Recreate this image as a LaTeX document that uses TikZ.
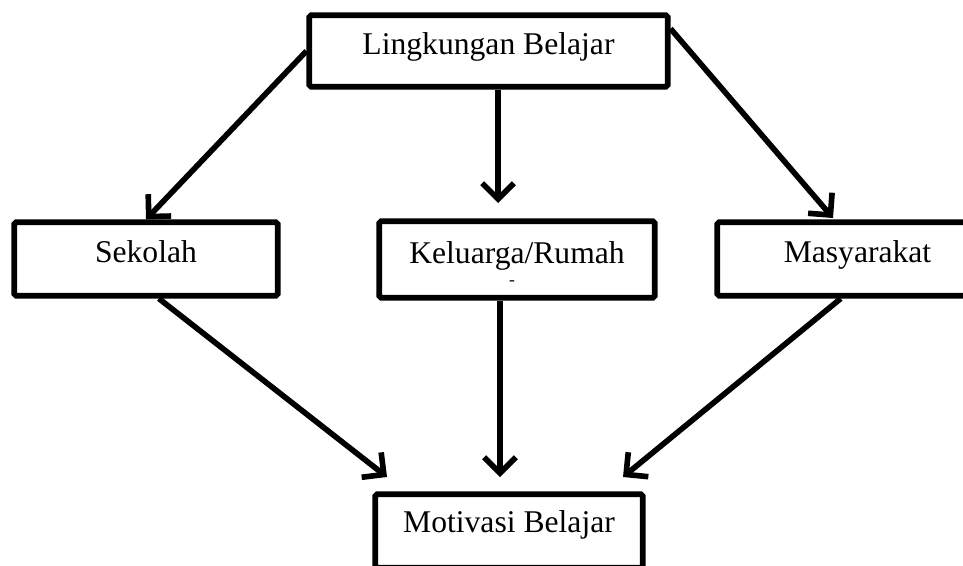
\documentclass[tikz,border=0pt]{standalone}
\usepackage{fontspec}
\setmainfont{Liberation Serif}
\usetikzlibrary{arrows.meta,positioning}
\tikzset{box/.style ={
        rectangle,
        draw=black,
        line width=3.2pt,
        rounded corners=1pt,
        inner sep=0pt,
        text height=13pt,
        text depth=9pt,
        font=\fontsize{18}{21}\selectfont
    },
    a/.style ={
        draw=black,
        line width=3.2pt,
        -{Straight Barb[length=9pt,width=18pt]}
    }}
\begin{document}
\begin{tikzpicture}
    [
    x=0.02cm,
    y=-0.02cm
    ]
    \useasboundingbox (0,0) rectangle (963,565);
    \clip (0,0) rectangle (963,565);
    \node (lingk)[box,minimum width=7.17cm,minimum height=1.43cm] at (488.5,51) {Lingkungan Belajar};
    \node (sekolah)[box,minimum width=5.27cm,minimum height=1.47cm] at (146,259) {Sekolah};
    \node (kel)[box,minimum width=5.51cm,minimum height=1.53cm] at (517,259.5) {Keluarga/Rumah};
    \node (kelmark)[inner sep=0pt,font=\fontsize{10}{10}\selectfont] at (512,283) {-};
    \node (masy)[box,minimum width=5.61cm,minimum height=1.47cm] at (857.5,259) {Masyarakat};
    \node (motiv)[box,minimum width=5.35cm,minimum height=1.47cm,text depth=11pt] at (509,531) {Motivasi Belajar};

    % arrow tips
    \coordinate (tk) at (498,203);
    \coordinate (tm) at (833,218);
    \coordinate (tl) at (387,477);
    \coordinate (tc) at (500,477);
    \coordinate (tr) at (623,477);

    \draw[a] (lingk.west) -- (sekolah.north);
    \draw[a] (lingk.7) -- (tm);
    \draw[a] (lingk.south -| tk) -- (tk);

    \draw[a] (sekolah.-72) -- (tl);
    \draw[a] (kel.south -| tc) -- (tc);
    \draw[a] (masy.-113) -- (tr);
\end{tikzpicture}
\end{document}
